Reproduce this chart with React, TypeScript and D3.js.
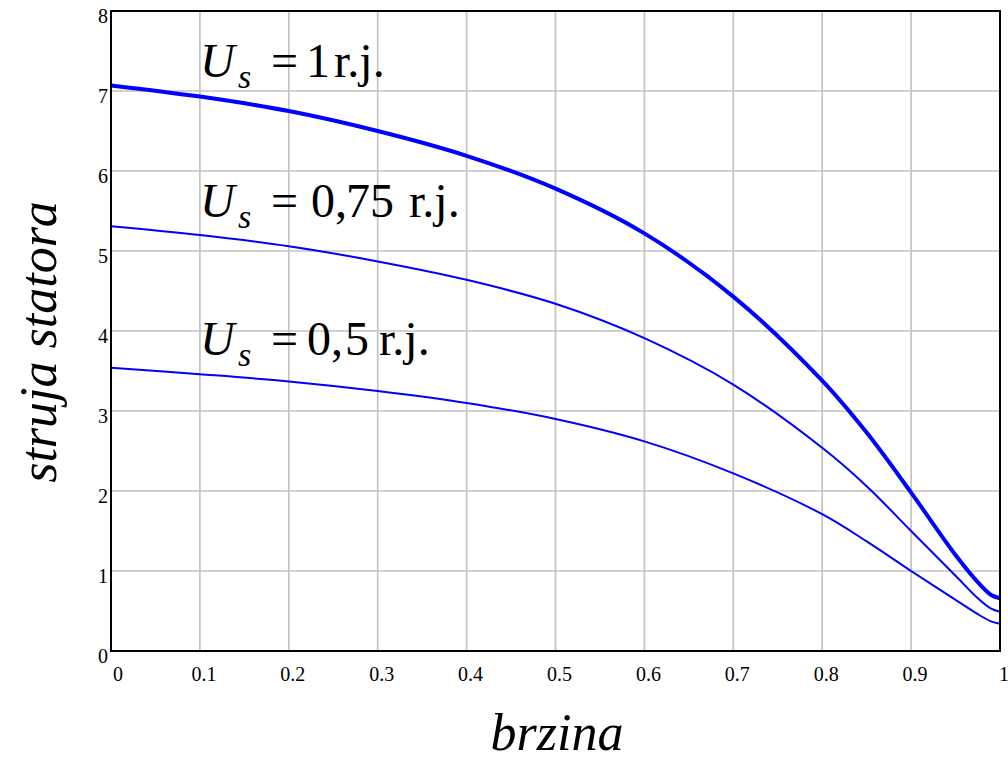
import React from "react";
import * as d3 from "d3";

const speed = [0, 0.1, 0.2, 0.3, 0.4, 0.5, 0.6, 0.7, 0.8, 0.85, 0.9, 0.95, 0.975, 0.99, 1.0];
const current100 = [7.07, 6.93, 6.75, 6.5, 6.19, 5.78, 5.22, 4.43, 3.38, 2.73, 1.98, 1.2, 0.86, 0.7, 0.66];
const current075 = [5.31, 5.2, 5.06, 4.87, 4.64, 4.34, 3.91, 3.33, 2.54, 2.06, 1.5, 0.94, 0.66, 0.53, 0.49];
const current050 = [3.54, 3.46, 3.37, 3.25, 3.1, 2.9, 2.62, 2.22, 1.71, 1.37, 1.0, 0.64, 0.46, 0.37, 0.34];

const xTicks = [0, 0.1, 0.2, 0.3, 0.4, 0.5, 0.6, 0.7, 0.8, 0.9, 1];
const yTicks = [0, 1, 2, 3, 4, 5, 6, 7, 8];

const W = 1008;
const H = 761;
const L = 111, R = 1000, T = 11, B = 651;

const serif = "Liberation Serif";

export default function App() {
  const x = d3.scaleLinear().domain([0, 1]).range([L, R]);
  const y = d3.scaleLinear().domain([0, 8]).range([B, T]);
  const line = d3
    .line<number>()
    .x((_, i) => x(speed[i]))
    .y((d) => y(d))
    .curve(d3.curveCatmullRom.alpha(0.5));

  const series = [
    { vals: current100, w: 4 },
    { vals: current075, w: 2 },
    { vals: current050, w: 2 },
  ];

  const labels = [
    { base: 77, parts: [{ t: "1", x: 306 }, { t: "r.j.", x: 334 }] },
    { base: 217, parts: [{ t: "0,", x: 311 }, { t: "75", x: 346 }, { t: "r.j.", x: 409 }] },
    { base: 355, parts: [{ t: "0,", x: 307 }, { t: "5", x: 345 }, { t: "r.j.", x: 379 }] },
  ];

  return (
    <svg
      width={W}
      height={H}
      style={{ position: "absolute", left: 0, top: 0, background: "#fff" }}
      fontFamily={serif}
    >
      <rect x={0} y={0} width={W} height={H} fill="#fff" />
      {xTicks.slice(1, -1).map((t) => (
        <line key={"gx" + t} x1={x(t)} x2={x(t)} y1={T} y2={B} stroke="#c3c3c3" strokeWidth={1.7} />
      ))}
      {yTicks.slice(1, -1).map((t) => (
        <line key={"gy" + t} x1={L} x2={R} y1={y(t)} y2={y(t)} stroke="#c3c3c3" strokeWidth={1.7} />
      ))}
      {series.map((s, i) => (
        <path key={i} d={line(s.vals) || ""} fill="none" stroke="#0000ff" strokeWidth={s.w} strokeLinejoin="round" />
      ))}
      <rect x={L} y={T} width={R - L} height={B - T} fill="none" stroke="#000" strokeWidth={2} />
      {yTicks.map((t) => (
        <text key={"yl" + t} x={108} y={y(t) + 12} textAnchor="end" fontSize={20} fill="#000">
          {t}
        </text>
      ))}
      {xTicks.map((t) => (
        <text key={"xl" + t} x={x(t) + (t === 0 ? 7 : 4)} y={681} textAnchor="middle" fontSize={20} fill="#000">
          {t}
        </text>
      ))}
      {labels.map((lb, i) => (
        <g key={"lb" + i} fill="#000">
          <text x={200} y={lb.base} fontSize={48} fontStyle="italic">U</text>
          <text x={238} y={lb.base + 11} fontSize={34} fontStyle="italic">s</text>
          <text x={271} y={lb.base} fontSize={48}>=</text>
          {lb.parts.map((p, j) => (
            <text key={j} x={p.x} y={lb.base} fontSize={48}>
              {p.t}
            </text>
          ))}
        </g>
      ))}
      <text
        transform="translate(56, 342) rotate(-90)"
        textAnchor="middle"
        fontSize={52}
        fontStyle="italic"
        fill="#000"
      >
        struja statora
      </text>
      <text x={557} y={750} textAnchor="middle" fontSize={52} fontStyle="italic" fill="#000">
        brzina
      </text>
    </svg>
  );
}
